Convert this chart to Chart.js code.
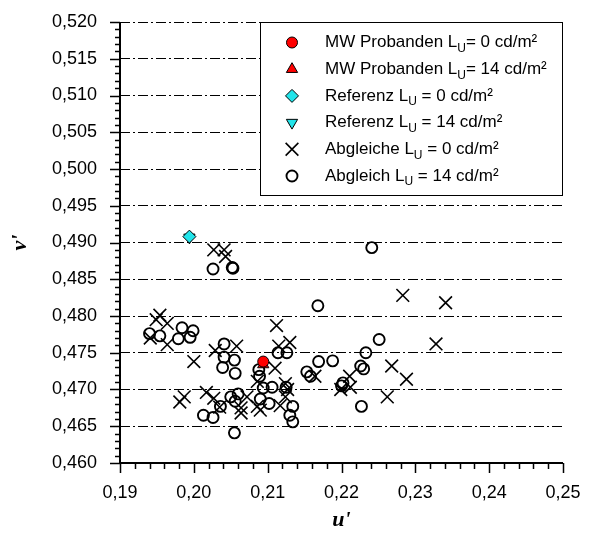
<!DOCTYPE html>
<html>
<head>
<meta charset="utf-8">
<script src="https://cdn.jsdelivr.net/npm/chart.js@4.4.0/dist/chart.umd.min.js"></script>
<style>
    body { margin: 0; background: #fff; }
    #chart { display: block; }
</style>
</head>
<body>
<canvas id="chart" width="591" height="540"></canvas>
<script>
// u'/v' chromaticity data
const xTicks = [0.19, 0.20, 0.21, 0.22, 0.23, 0.24, 0.25];
const yTicks = [0.460, 0.465, 0.470, 0.475, 0.480, 0.485, 0.490, 0.495, 0.500, 0.505, 0.510, 0.515, 0.520];

const mwProbanden0U = [0.2094];
const mwProbanden0V = [0.4738];
const mwProbanden14U = [0.2094];
const mwProbanden14V = [0.4734];
const referenz0U = [0.1994];
const referenz0V = [0.4908];
const referenz14U = [0.1994];
const referenz14V = [0.4907];

const abgleiche0U = [0.2027, 0.2041, 0.2043, 0.1954, 0.1949, 0.1964, 0.1941, 0.1964, 0.2000, 0.1981,
    0.1987, 0.2017, 0.2027, 0.2035, 0.2029, 0.2058, 0.2064, 0.2064, 0.2072, 0.2086,
    0.2090, 0.2086, 0.2112, 0.2115, 0.2130, 0.2110, 0.2124, 0.2127, 0.2124, 0.2117,
    0.2164, 0.2211, 0.2199, 0.2212, 0.2262, 0.2268, 0.2288, 0.2283, 0.2341, 0.2328];
const abgleiche0V = [0.4890, 0.4890, 0.4881, 0.4801, 0.4795, 0.4790, 0.4770, 0.4761, 0.4738, 0.4683,
    0.4690, 0.4696, 0.4688, 0.4676, 0.4753, 0.4759, 0.4675, 0.4668, 0.4690, 0.4677,
    0.4672, 0.4711, 0.4787, 0.4759, 0.4764, 0.4729, 0.4708, 0.4700, 0.4690, 0.4678,
    0.4718, 0.4718, 0.4700, 0.4703, 0.4690, 0.4732, 0.4714, 0.4828, 0.4818, 0.4762];

const abgleich14U = [0.2026, 0.2052, 0.2053, 0.1940, 0.1954, 0.1984, 0.1979, 0.1999, 0.1995, 0.2013,
    0.2026, 0.2036, 0.2041, 0.2041, 0.2039, 0.2055, 0.2056, 0.2050, 0.2060, 0.2056,
    0.2055, 0.2090, 0.2094, 0.2102, 0.2106, 0.2089, 0.2088, 0.2114, 0.2126, 0.2125,
    0.2134, 0.2130, 0.2134, 0.2168, 0.2169, 0.2153, 0.2158, 0.2188, 0.2202, 0.2200,
    0.2233, 0.2226, 0.2230, 0.2251, 0.2227, 0.2241];
const abgleich14V = [0.4864, 0.4866, 0.4865, 0.4776, 0.4773, 0.4784, 0.4769, 0.4780, 0.4771, 0.4665,
    0.4662, 0.4677, 0.4762, 0.4744, 0.4730, 0.4740, 0.4722, 0.4690, 0.4694, 0.4684,
    0.4641, 0.4687, 0.4702, 0.4681, 0.4703, 0.4718, 0.4727, 0.4750, 0.4750, 0.4703,
    0.4677, 0.4665, 0.4656, 0.4814, 0.4738, 0.4724, 0.4718, 0.4739, 0.4709, 0.4705,
    0.4750, 0.4732, 0.4728, 0.4768, 0.4677, 0.4893];

// legend text: [before subscript, subscript, after]
const legendLabels = [
    ['MW Probanden L', 'U', '= 0 cd/m²'],
    ['MW Probanden L', 'U', '= 14 cd/m²'],
    ['Referenz L', 'U', ' = 0 cd/m²'],
    ['Referenz L', 'U', ' = 14 cd/m²'],
    ['Abgleiche L', 'U', ' = 0 cd/m²'],
    ['Abgleich L', 'U', ' = 14 cd/m²']
];

const toPoints = (us, vs) => us.map((u, i) => ({ x: u, y: vs[i] }));
const comma = (v, d) => v.toFixed(d).replace('.', ',');

const FONT = '"Liberation Sans", Arial, sans-serif';
const CYAN = '#22e4ea';

const datasets = [
    { data: toPoints(mwProbanden0U, mwProbanden0V), pointStyle: 'circle', pointRadius: 5.5,
      backgroundColor: '#ff0000', borderColor: '#000', pointBorderWidth: 1 },
    { data: toPoints(mwProbanden14U, mwProbanden14V), pointStyle: 'triangle', pointRadius: 6.5,
      backgroundColor: '#ff0000', borderColor: '#000', pointBorderWidth: 1 },
    { data: toPoints(referenz0U, referenz0V), pointStyle: 'rectRot', pointRadius: 6.5,
      backgroundColor: CYAN, borderColor: '#000', pointBorderWidth: 1 },
    { data: toPoints(referenz14U, referenz14V), pointStyle: 'triangle', pointRotation: 180, pointRadius: 6.5,
      backgroundColor: CYAN, borderColor: '#000', pointBorderWidth: 1 },
    { data: toPoints(abgleiche0U, abgleiche0V), pointStyle: 'crossRot', pointRadius: 9,
      backgroundColor: '#000', borderColor: '#000', pointBorderWidth: 1.6 },
    { data: toPoints(abgleich14U, abgleich14V), pointStyle: 'circle', pointRadius: 5.5,
      backgroundColor: 'rgba(0,0,0,0)', borderColor: '#000', pointBorderWidth: 1.9 }
];

// axes, minor ticks, legend box and axis titles
const decorPlugin = {
    id: 'decor',
    afterDraw(chart) {
        const ctx = chart.ctx;
        const xs = chart.scales.x;
        const ys = chart.scales.y;
        const area = chart.chartArea;

        ctx.save();
        ctx.strokeStyle = '#000';
        ctx.lineWidth = 1.5;
        ctx.beginPath();
        // minor + major ticks on x
        for (let i = 0; i <= 30; i++) {
            const px = Math.round(xs.getPixelForValue(0.19 + i * 0.002)) + 0.5;
            const len = i % 5 === 0 ? 10 : 6;
            ctx.moveTo(px, area.bottom);
            ctx.lineTo(px, area.bottom + len);
        }
        // minor + major ticks on y
        for (let i = 0; i <= 60; i++) {
            const py = Math.round(ys.getPixelForValue(0.46 + i * 0.001)) + 0.5;
            const len = i % 5 === 0 ? 10 : 5;
            ctx.moveTo(area.left, py);
            ctx.lineTo(area.left - len, py);
        }
        ctx.stroke();

        ctx.lineWidth = 2;
        ctx.beginPath();
        ctx.moveTo(area.left, area.top);
        ctx.lineTo(area.left, area.bottom);
        ctx.lineTo(area.right, area.bottom);
        ctx.stroke();

        // legend
        const lx = 260, ly = area.top, lw = area.right - 260, lh = 196 - area.top;
        ctx.fillStyle = '#fff';
        ctx.fillRect(lx, ly, lw, lh);
        ctx.lineWidth = 1;
        ctx.strokeRect(lx + 0.5, ly + 0.5, lw - 1, lh - 1);

        legendLabels.forEach((parts, i) => {
            const ds = datasets[i];
            const y = 42.5 + i * 26.7;
            ctx.fillStyle = ds.backgroundColor;
            ctx.strokeStyle = ds.borderColor;
            ctx.lineWidth = ds.pointBorderWidth;
            Chart.helpers.drawPoint(ctx, {
                pointStyle: ds.pointStyle,
                radius: ds.pointRadius,
                rotation: ds.pointRotation || 0,
                borderWidth: ds.pointBorderWidth
            }, 292, y);

            ctx.fillStyle = '#000';
            ctx.textBaseline = 'middle';
            ctx.textAlign = 'left';
            let tx = 325;
            ctx.font = '17px ' + FONT;
            ctx.fillText(parts[0], tx, y);
            tx += ctx.measureText(parts[0]).width;
            ctx.font = '12px ' + FONT;
            ctx.fillText(parts[1], tx, y + 6);
            tx += ctx.measureText(parts[1]).width;
            ctx.font = '17px ' + FONT;
            ctx.fillText(parts[2], tx, y);
        });

        // axis titles
        ctx.fillStyle = '#000';
        ctx.font = 'italic bold 22px "Liberation Serif", "Times New Roman", serif';
        ctx.textAlign = 'center';
        ctx.textBaseline = 'middle';
        ctx.fillText("u'", (area.left + area.right) / 2, 520);
        ctx.save();
        ctx.translate(20, (area.top + area.bottom) / 2);
        ctx.rotate(-Math.PI / 2);
        ctx.fillText("v'", 0, 0);
        ctx.restore();

        ctx.restore();
    }
};

new Chart(document.getElementById('chart').getContext('2d'), {
    type: 'scatter',
    data: { datasets: datasets },
    options: {
        responsive: false,
        animation: false,
        events: [],
        layout: { padding: { top: 22, right: 28, left: 0, bottom: 0 } },
        plugins: {
            legend: { display: false },
            tooltip: { enabled: false }
        },
        scales: {
            x: {
                type: 'linear',
                min: xTicks[0],
                max: xTicks[xTicks.length - 1],
                afterBuildTicks: (scale) => { scale.ticks = xTicks.map(v => ({ value: v })); },
                afterFit: (scale) => {
                    scale.height = 77;
                    scale.paddingLeft = 0;
                    scale.paddingRight = 0;
                },
                grid: { display: false, drawTicks: false },
                border: { display: false },
                ticks: {
                    padding: 19,
                    color: '#000',
                    font: { family: FONT, size: 18 },
                    callback: (v) => comma(v, 2)
                }
            },
            y: {
                type: 'linear',
                min: yTicks[0],
                max: yTicks[yTicks.length - 1],
                afterBuildTicks: (scale) => { scale.ticks = yTicks.map(v => ({ value: v })); },
                afterFit: (scale) => {
                    scale.width = 120;
                    scale.paddingTop = 0;
                    scale.paddingBottom = 0;
                },
                grid: { color: '#000', lineWidth: 1, drawTicks: false },
                border: { display: false, dash: [10, 3, 2, 3] },
                ticks: {
                    padding: 23,
                    color: '#000',
                    font: { family: FONT, size: 18 },
                    callback: (v) => comma(v, 3)
                }
            }
        }
    },
    plugins: [decorPlugin]
});
</script>
</body>
</html>
